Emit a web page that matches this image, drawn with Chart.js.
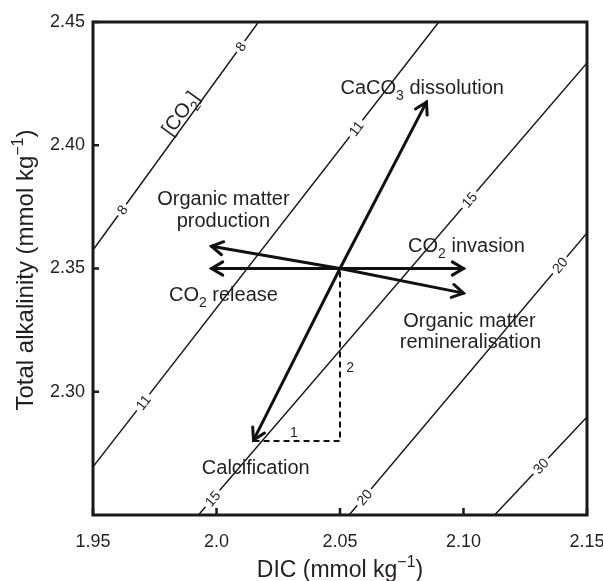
<!DOCTYPE html>
<html lang="en">
<head>
<meta charset="UTF-8">
<title>DIC vs total alkalinity</title>
<script src="https://cdn.jsdelivr.net/npm/chart.js@4.4.0/dist/chart.umd.min.js"></script>
<style>
  html,body{margin:0;padding:0;background:#fff;}
  canvas{display:block;}
</style>
</head>
<body>
<canvas id="chart" width="603" height="581"></canvas>
<script>
// axis ticks
const xTickValues=[1.95,2.0,2.05,2.10,2.15];
const xTickLabels=['1.95','2.0','2.05','2.10','2.15'];
const yTickValues=[2.30,2.35,2.40,2.45];
const yTickLabels=['2.30','2.35','2.40','2.45'];

// [CO2] isolines, where they enter and leave the frame
const co2Levels=[8,11,15,20,30];
const isoStartDIC=[1.95,1.95,1.9927,2.0537,2.1126];
const isoStartTA=[2.3575,2.2695,2.25,2.25,2.25];
const isoEndDIC=[2.017,2.090,2.15,2.15,2.15];
const isoEndTA=[2.45,2.45,2.4334,2.3644,2.2898];
const isoLabelDIC=[[1.9618,2.0098],[1.9703,2.0565],[1.9984,2.1024],[2.0598,2.139],[2.1313]];

// process vectors, all from one start point
const originDIC=2.05, originTA=2.35;
const processNames=['CaCO3 dissolution','Calcification','CO2 invasion','CO2 release','Organic matter production','Organic matter remineralisation'];
const processDIC=[2.085,2.015,2.10,1.998,1.998,2.10];
const processTA=[2.4175,2.2804,2.35,2.35,2.359,2.340];

// 1 : 2 triangle of calcification
const ratioDIC=[2.015,2.05,2.05];
const ratioTA=[2.28,2.28,2.35];

const FONT="'Liberation Sans', Arial, Helvetica, sans-serif";
const INK='#231f20';

// text in the plot, placed in data units
const notes=[
  {x:2.0028,y:2.3758,parts:['Organic matter']},
  {x:2.0028,y:2.3668,parts:['production']},
  {x:2.0833,y:2.4208,parts:['CaCO',{sub:'3'},' dissolution']},
  {x:2.1012,y:2.3567,parts:['CO',{sub:'2'},' invasion']},
  {x:2.0028,y:2.3368,parts:['CO',{sub:'2'},' release']},
  {x:2.1024,y:2.3263,parts:['Organic matter']},
  {x:2.1028,y:2.3178,parts:['remineralisation']},
  {x:2.0159,y:2.2666,parts:['Calcification']},
  {x:2.0313,y:2.2816,parts:['1'],size:14},
  {x:2.0541,y:2.3080,parts:['2'],size:14}
];

function drawRich(ctx,parts,x,y,size,align){
  const small=Math.round(size*0.68);
  let w=0;
  const segs=parts.map(p=>{
    let s;
    if(typeof p==='string') s={t:p,f:size,dy:0};
    else if(p.sub) s={t:p.sub,f:small,dy:size*0.3};
    else s={t:p.sup,f:small,dy:-size*0.42};
    ctx.font=s.f+'px '+FONT;
    s.w=ctx.measureText(s.t).width;
    w+=s.w;
    return s;
  });
  let cx=align==='center'?x-w/2:x;
  ctx.textAlign='left';
  ctx.textBaseline='alphabetic';
  for(const s of segs){
    ctx.font=s.f+'px '+FONT;
    ctx.fillText(s.t,cx,y+s.dy);
    cx+=s.w;
  }
}

const datasets=[];
co2Levels.forEach((lv,i)=>{
  datasets.push({
    label:'[CO2] '+lv,
    data:[{x:isoStartDIC[i],y:isoStartTA[i]},{x:isoEndDIC[i],y:isoEndTA[i]}],
    showLine:true,borderColor:'#111',borderWidth:1.4,pointRadius:0
  });
});
datasets.push({
  label:'ratio',
  data:ratioDIC.map((d,i)=>({x:d,y:ratioTA[i]})),
  showLine:true,borderColor:'#111',borderWidth:2,borderDash:[6,4],pointRadius:0
});
processNames.forEach((n,i)=>{
  datasets.push({
    label:n,arrow:true,
    data:[{x:originDIC,y:originTA},{x:processDIC[i],y:processTA[i]}],
    showLine:true,borderColor:'#111',borderWidth:3,pointRadius:0,borderCapStyle:'round'
  });
});

const decor={
  id:'decor',
  afterDatasetsDraw(chart){
    const {ctx,chartArea:a,scales:{x,y}}=chart;
    ctx.save();
    ctx.fillStyle=INK;

    // isoline labels sitting in a gap of the line
    co2Levels.forEach((lv,i)=>{
      const px0=x.getPixelForValue(isoStartDIC[i]),py0=y.getPixelForValue(isoStartTA[i]);
      const px1=x.getPixelForValue(isoEndDIC[i]),py1=y.getPixelForValue(isoEndTA[i]);
      const ang=Math.atan2(py1-py0,px1-px0);
      const at=d=>{const t=(d-isoStartDIC[i])/(isoEndDIC[i]-isoStartDIC[i]);return [px0+t*(px1-px0),py0+t*(py1-py0)];};
      isoLabelDIC[i].forEach(d=>{
        const [px,py]=at(d);
        ctx.save();
        ctx.translate(px,py);
        ctx.rotate(ang);
        ctx.font='14px '+FONT;
        const w=ctx.measureText(String(lv)).width;
        ctx.fillStyle='#fff';
        ctx.fillRect(-w/2-3,-6,w+6,12);
        ctx.fillStyle=INK;
        ctx.textAlign='center';
        ctx.textBaseline='middle';
        ctx.fillText(String(lv),0,1);
        ctx.restore();
      });
      if(i===0){
        const [px,py]=at(1.9885);
        ctx.save();
        ctx.translate(px,py);
        ctx.rotate(ang);
        drawRich(ctx,['[CO',{sub:'2'},']'],0,-3,20,'center');
        ctx.restore();
      }
    });

    // arrow heads
    ctx.strokeStyle='#111';
    ctx.lineWidth=3;
    ctx.lineCap='round';
    ctx.lineJoin='miter';
    chart.data.datasets.forEach((ds,i)=>{
      if(!ds.arrow) return;
      const pts=chart.getDatasetMeta(i).data;
      const p0=pts[0],p1=pts[1];
      const ang=Math.atan2(p1.y-p0.y,p1.x-p0.x);
      const L=13,spread=Math.PI*0.83;
      ctx.beginPath();
      ctx.moveTo(p1.x+L*Math.cos(ang+spread),p1.y+L*Math.sin(ang+spread));
      ctx.lineTo(p1.x,p1.y);
      ctx.lineTo(p1.x+L*Math.cos(ang-spread),p1.y+L*Math.sin(ang-spread));
      ctx.stroke();
    });

    // frame and inward ticks
    ctx.lineCap='butt';
    ctx.strokeStyle='#1a1a1a';
    ctx.lineWidth=3;
    ctx.strokeRect(a.left,a.top,a.right-a.left,a.bottom-a.top);
    ctx.lineWidth=2.5;
    ctx.beginPath();
    yTickValues.forEach(v=>{const py=y.getPixelForValue(v);ctx.moveTo(a.left,py);ctx.lineTo(a.left+6,py);});
    xTickValues.forEach(v=>{const px=x.getPixelForValue(v);ctx.moveTo(px,a.bottom);ctx.lineTo(px,a.bottom-7);});
    ctx.stroke();

    // process labels
    ctx.fillStyle=INK;
    notes.forEach(n=>{
      drawRich(ctx,n.parts,x.getPixelForValue(n.x),y.getPixelForValue(n.y),n.size||20,'center');
    });

    // axis titles
    drawRich(ctx,['DIC (mmol kg',{sup:'\u22121'},')'],(a.left+a.right)/2,577,23,'center');
    ctx.save();
    ctx.translate(33,270);
    ctx.rotate(-Math.PI/2);
    drawRich(ctx,['Total alkalinity (mmol kg',{sup:'\u22121'},')'],0,0,24,'center');
    ctx.restore();

    ctx.restore();
  }
};

new Chart(document.getElementById('chart'),{
  type:'scatter',
  data:{datasets},
  options:{
    responsive:false,
    animation:false,
    devicePixelRatio:1,
    layout:{padding:{top:22,right:16,left:0,bottom:0}},
    plugins:{legend:{display:false},tooltip:{enabled:false}},
    scales:{
      x:{
        type:'linear',min:1.95,max:2.15,
        afterBuildTicks:s=>{s.ticks=xTickValues.map(v=>({value:v}));},
        afterFit:s=>{s.height=66;s.paddingLeft=0;s.paddingRight=0;},
        grid:{display:false,drawTicks:false},border:{display:false},
        ticks:{padding:16,color:INK,font:{family:FONT,size:18},maxRotation:0,
          callback:(v,i)=>xTickLabels[i]}
      },
      y:{
        type:'linear',min:2.25,max:2.45,
        afterBuildTicks:s=>{s.ticks=yTickValues.map(v=>({value:v}));},
        afterFit:s=>{s.width=93;s.paddingTop=0;s.paddingBottom=0;},
        grid:{display:false,drawTicks:false},border:{display:false},
        ticks:{padding:8,color:INK,font:{family:FONT,size:18},
          callback:(v,i)=>yTickLabels[i]}
      }
    }
  },
  plugins:[decor]
});
</script>
</body>
</html>
